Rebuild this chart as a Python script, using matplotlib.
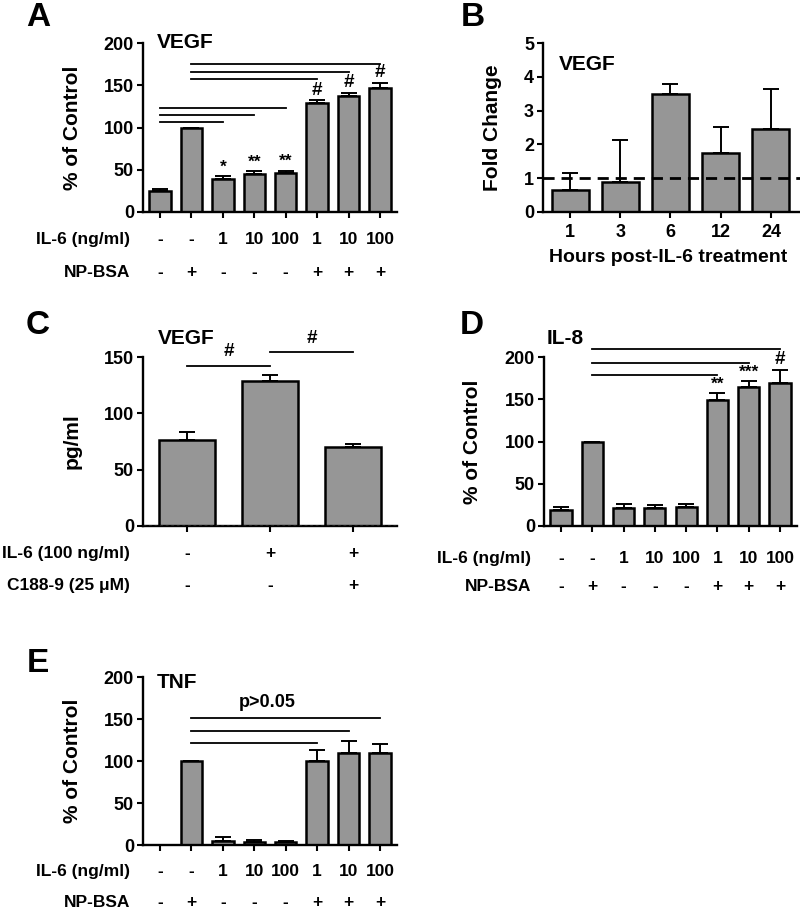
import matplotlib
matplotlib.use("Agg")
import matplotlib.pyplot as plt
import numpy as np

plt.rcParams["font.family"] = ["Liberation Sans", "DejaVu Sans"]
plt.rcParams["font.weight"] = "bold"
plt.rcParams["axes.labelweight"] = "bold"

BAR_COLOR = "#969696"
TICK_FS = 13
TABLE_FS = 12.5
LABEL_FS = 15
TITLE_FS = 15

# treatment table shared by A, D, E
IL6_ROW = ["-", "-", "1", "10", "100", "1", "10", "100"]
NPBSA_ROW = ["-", "+", "-", "-", "-", "+", "+", "+"]

# A: VEGF, % of control
a_vals = [25, 100, 39, 45, 46, 129, 137, 147]
a_err = [2.5, 0, 3.5, 3, 3, 3, 4, 6]
a_marks = ["", "", "*", "**", "**", "#", "#", "#"]
a_lines = [(0, 2, 107), (0, 3, 115), (0, 4, 123), (1, 5, 157), (1, 6, 166), (1, 7, 175)]

# B: VEGF fold change over time
b_hours = ["1", "3", "6", "12", "24"]
b_vals = [0.66, 0.89, 3.48, 1.74, 2.46]
b_err = [0.49, 1.23, 0.3, 0.76, 1.18]

# C: VEGF pg/ml
c_il6 = ["-", "+", "+"]
c_c188 = ["-", "-", "+"]
c_vals = [76, 129, 70]
c_err = [7, 5, 3]
c_lines = [(0, 1, 142), (1, 2, 154)]

# D: IL-8
d_vals = [18.5, 100, 21.5, 21, 22.5, 149, 165, 169]
d_err = [4.5, 0, 5, 4, 4, 8, 6.5, 16]
d_marks = ["", "", "", "", "", "**", "***", "#"]
d_lines = [(1, 5, 179), (1, 6, 193), (1, 7, 209)]

# E: TNF
e_vals = [0, 100, 5, 4, 3, 100, 110, 109]
e_err = [0, 0, 4.5, 2.5, 1.5, 13.5, 13.5, 11]
e_lines = [(1, 5, 121.5), (1, 6, 135.5), (1, 7, 151)]

W, H = 800, 909
fig = plt.figure(figsize=(8, 9.09), dpi=100)


def add_axes(x0, x1, ytop, ybot):
    return fig.add_axes([x0 / W, 1 - ybot / H, (x1 - x0) / W, (ybot - ytop) / H])


def style(ax, yticks, ylabel, label_x=-0.24):
    for s in ["top", "right"]:
        ax.spines[s].set_visible(False)
    for s in ["left", "bottom"]:
        ax.spines[s].set_linewidth(1.7)
    ax.tick_params(width=1.5, length=4.5, labelsize=TICK_FS, direction="out", pad=2)
    ax.set_yticks(yticks)
    ax.set_ylim(yticks[0], yticks[-1])
    ax.set_ylabel(ylabel, fontsize=LABEL_FS)
    ax.yaxis.set_label_coords(label_x, 0.5)


def bars(ax, vals, err, width=0.68):
    x = np.arange(len(vals))
    ax.bar(x, vals, width=width, color=BAR_COLOR, edgecolor="black", linewidth=1.8, zorder=2)
    ax.errorbar(x, vals, yerr=[np.zeros(len(vals)), err], fmt="none", ecolor="black",
                elinewidth=1.4, capsize=6, capthick=1.4, zorder=1)
    return x


def table(ax, rows, labels, ys, x):
    for row, lab, y in zip(rows, labels, ys):
        ax.text(-0.05, y, lab, transform=ax.transAxes, ha="right", va="center", fontsize=TABLE_FS)
        for xi, t in zip(x, row):
            ax.text(xi, y, t, transform=ax.get_xaxis_transform(), ha="center", va="center",
                    fontsize=TABLE_FS)


def sig_lines(ax, lines):
    for i, j, y in lines:
        ax.plot([i, j], [y, y], color="black", lw=1.3, clip_on=False)


def marks(ax, vals, err, labels):
    for xi, v, e, m in zip(range(len(vals)), vals, err, labels):
        if m:
            ax.text(xi, v + e + 2, m, ha="center", va="bottom", fontsize=13.5 if m == "#" else 12.5)


# ---- A ----
ax = add_axes(143, 397, 43, 212)
x = bars(ax, a_vals, a_err)
ax.set_xlim(-0.54, 7.54)
ax.set_xticks(x)
ax.set_xticklabels([])
style(ax, [0, 50, 100, 150, 200], "% of Control")
sig_lines(ax, a_lines)
marks(ax, a_vals, a_err, a_marks)
table(ax, [IL6_ROW, NPBSA_ROW], ["IL-6 (ng/ml)", "NP-BSA"], [-0.165, -0.36], x)
ax.text(0.055, 1.0, "VEGF", transform=ax.transAxes, ha="left", va="center", fontsize=TITLE_FS)

# ---- B ----
ax = add_axes(543, 800, 43, 212)
x = bars(ax, b_vals, b_err, width=0.74)
ax.set_xlim(-0.54, 4.58)
ax.set_xticks(x)
ax.set_xticklabels(b_hours)
style(ax, [0, 1, 2, 3, 4, 5], "Fold Change", label_x=-0.16)
ax.tick_params(axis="x", pad=4)
ax.axhline(1, color="black", lw=2, ls=(0, (4, 2.5)), zorder=3)
ax.set_xlabel("Hours post-IL-6 treatment", fontsize=14)
ax.xaxis.set_label_coords(0.485, -0.22)
ax.text(0.062, 0.87, "VEGF", transform=ax.transAxes, ha="left", va="center", fontsize=TITLE_FS)

# ---- C ----
ax = add_axes(143, 397, 357, 526)
x = bars(ax, c_vals, c_err, width=0.67)
ax.set_xlim(-0.53, 2.53)
ax.set_xticks(x)
ax.set_xticklabels([])
style(ax, [0, 50, 100, 150], "pg/ml")
ax.axhline(0, color="gray", lw=1, ls=(0, (2, 2)), zorder=3)
sig_lines(ax, c_lines)
for (i, j, y) in c_lines:
    ax.text((i + j) / 2, y + 5, "#", ha="center", va="bottom", fontsize=13.5)
table(ax, [c_il6, c_c188], ["IL-6 (100 ng/ml)", "C188-9 (25 \u03bcM)"], [-0.16, -0.355], x)
ax.text(0.06, 1.11, "VEGF", transform=ax.transAxes, ha="left", va="center", fontsize=TITLE_FS)

# ---- D ----
ax = add_axes(544, 797, 357, 526)
x = bars(ax, d_vals, d_err)
ax.set_xlim(-0.54, 7.54)
ax.set_xticks(x)
ax.set_xticklabels([])
style(ax, [0, 50, 100, 150, 200], "% of Control", label_x=-0.245)
sig_lines(ax, d_lines)
marks(ax, d_vals, d_err, d_marks)
table(ax, [IL6_ROW, NPBSA_ROW], ["IL-6 (ng/ml)", "NP-BSA"], [-0.19, -0.36], x)
ax.text(0.01, 1.11, "IL-8", transform=ax.transAxes, ha="left", va="center", fontsize=TITLE_FS)

# ---- E ----
ax = add_axes(143, 397, 677, 845)
x = bars(ax, e_vals, e_err)
ax.set_xlim(-0.54, 7.54)
ax.set_xticks(x)
ax.set_xticklabels([])
style(ax, [0, 50, 100, 150, 200], "% of Control")
sig_lines(ax, e_lines)
ax.text(3.4, 170, "p>0.05", ha="center", va="center", fontsize=TICK_FS)
table(ax, [IL6_ROW, NPBSA_ROW], ["IL-6 (ng/ml)", "NP-BSA"], [-0.16, -0.34], x)
ax.text(0.055, 0.97, "TNF", transform=ax.transAxes, ha="left", va="center", fontsize=TITLE_FS)

# panel letters
for letter, px, py in [("A", 38, 17), ("B", 473, 17), ("C", 38, 325), ("D", 472, 325), ("E", 38, 663)]:
    fig.text(px / W, 1 - py / H, letter, ha="center", va="center", fontsize=24, fontweight="bold")

fig.savefig("out.png", dpi=100)
